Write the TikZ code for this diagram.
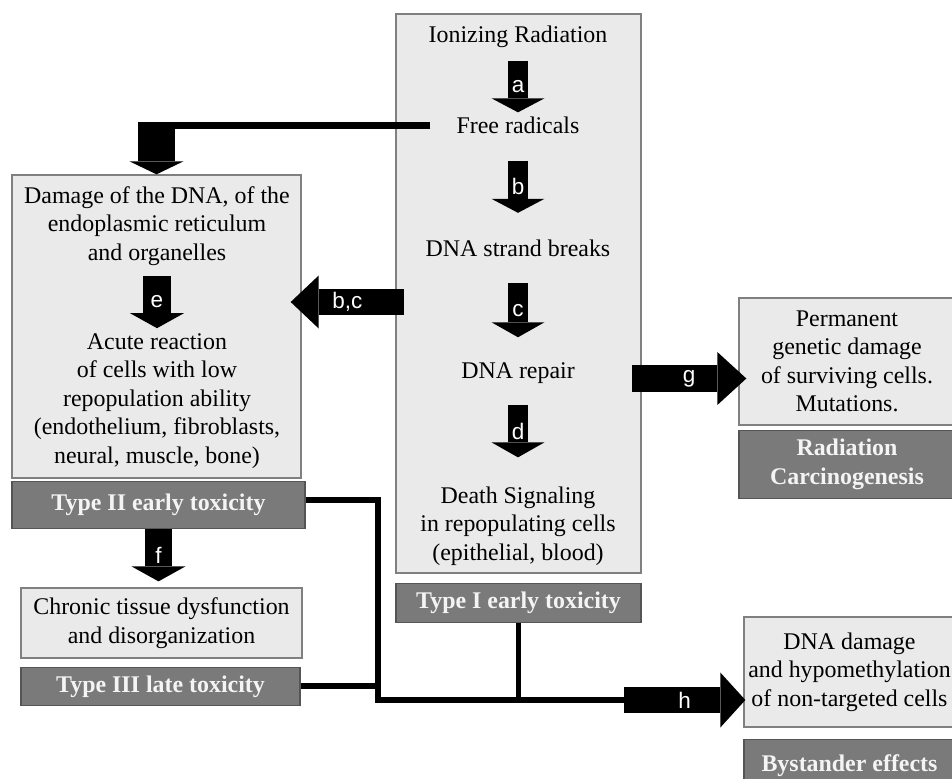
\documentclass[tikz,border=0pt]{standalone}
\usepackage{fontspec}
\setmainfont{Liberation Serif}
\setsansfont{Liberation Sans}
\usetikzlibrary{arrows.meta,positioning,calc}
\definecolor{BoxFill}{HTML}{EAEAEA}
\definecolor{BoxEdge}{HTML}{808080}
\definecolor{TagFill}{HTML}{7A7A7A}
\definecolor{TagEdge}{HTML}{555555}
\definecolor{TagText}{HTML}{F4F4F4}
\tikzset{
  LB/.style={rectangle,draw=BoxEdge,fill=BoxFill,line width=0.9pt,inner sep=0pt,
             align=center,font=\fontsize{17}{20.3}\selectfont},
  DB/.style={rectangle,draw=TagEdge,fill=TagFill,line width=0.9pt,inner sep=0pt,
             text=TagText,align=center,font=\fontsize{17}{20.3}\selectfont\bfseries},
  TX/.style={align=center,inner sep=0pt,font=\fontsize{17}{20.3}\selectfont},
  blk/.style n args={3}{line width=#1,
             -{Triangle[width=#2 0 0,length=#3 0 0,line width=0pt 0 0]}},
  bar/.style={line width=0.14cm},
  AL/.style={text=white,inner sep=0pt,font=\sffamily\fontsize{16}{18}\selectfont}
}
\begin{document}
\begin{tikzpicture}[x=0.025cm,y=-0.025cm]
  \useasboundingbox (0,0) rectangle (952,778);

  % boxes
  \node[LB,minimum width=6.125cm,minimum height=13.975cm] (rad) at (518.5,293.5) {};
  \node[DB,minimum width=6.125cm,minimum height=0.975cm,below=0.225cm of rad] (t1) {Type I early toxicity};
  \node[LB,minimum width=7.225cm,minimum height=7.575cm] (dmg) at (156.5,326.5) {};
  \node[DB,minimum width=7.325cm,minimum height=1.175cm,below right=0.05cm and 0cm of dmg.south west] (t2) {Type II early toxicity};
  \node[LB,minimum width=7.025cm,minimum height=1.75cm] (chr) at (161.5,623) {Chronic tissue dysfunction\\and disorganization};
  \node[DB,minimum width=6.975cm,minimum height=0.95cm,below right=0.2cm and 0cm of chr.south west] (t3) {Type III late toxicity};
  \node[LB,minimum width=5.4cm,minimum height=3.175cm] (perm) at (847,361.5) {Permanent\\genetic damage\\of surviving cells.\\Mutations.};
  \node[DB,minimum width=5.4cm,minimum height=1.7cm,below right=0.1cm and 0cm of perm.south west] (carc) {Radiation\\Carcinogenesis};
  \node[LB,minimum width=5.275cm,minimum height=2.75cm] (dna) at (849.5,672) {DNA damage\\and hypomethylation\\of non-targeted cells};
  \node[DB,minimum width=5.275cm,minimum height=1.3cm,below right=0.275cm and 0cm of dna.south west] (bys) {Bystander effects};

  % texts in the big boxes
  \node[TX] (ion) at (518,36.5) {Ionizing Radiation};
  \node[TX] (free) at (518,125) {Free radicals};
  \node[TX] (brk) at (518,248.5) {DNA strand breaks};
  \node[TX] (rep) at (518,373) {DNA repair};
  \node[TX] (death) at (518,526) {Death Signaling\\in repopulating cells\\(epithelial, blood)};
  \node[TX] (dmgtx) at (157,226) {Damage of the DNA, of the\\endoplasmic reticulum\\and organelles};
  \node[TX] (acute) at (157,401) {Acute reaction\\of cells with low\\repopulation ability\\(endothelium, fibroblasts,\\neural, muscle, bone)};

  % block arrows
  \draw[blk={0.5cm}{1.325cm}{0.35cm}] ($(ion.south)+(0,13)$) -- node[AL] (la) {a} ($(free.north)+(0,-4)$);
  \draw[blk={0.5cm}{1.325cm}{0.35cm}] ($(free.south)+(0,27)$) -- node[AL] (lb) {b} ($(brk.north)+(0,-27)$);
  \draw[blk={0.5cm}{1.325cm}{0.375cm}] ($(brk.south)+(0,26)$) -- node[AL] (lc) {c} ($(rep.north)+(0,-25)$);
  \draw[blk={0.5cm}{1.325cm}{0.375cm}] ($(rep.south)+(0,21)$) -- node[AL] (ld) {d} ($(death.north)+(0,-29)$);
  \draw[blk={0.675cm}{1.35cm}{0.375cm}] ($(dmgtx.south)+(0,10)$) -- node[AL] (le) {e} ($(acute.north)+(0,-5)$);
  \draw[blk={0.675cm}{1.35cm}{0.375cm}] (t2.south) -- node[AL] (lf) {f} ($(t2.south |- chr.north)+(0,-6)$);

  \draw[line width=0.175cm] ($(free.west)+(-26,0)$) -- (free.west -| dmg.north);
  \draw[blk={0.925cm}{1.35cm}{0.325cm}] ($(free.west -| dmg.north)+(0,-3.5)$) -- (dmg.north);

  \coordinate (bc) at (404,302);
  \draw[blk={0.65cm}{1.325cm}{0.7cm}] (bc) -- node[AL] (lbc) {b,c} ($(bc -| dmg.east)+(-11,0)$);
  \coordinate (gs) at (632,378.5);
  \draw[blk={0.675cm}{1.325cm}{0.725cm}] (gs) -- node[AL] (lg) {g} ($(gs -| perm.west)+(8,0)$);

  % bystander lines
  \coordinate (jn) at (378,700);
  \coordinate (hs) at (624,700);
  \draw[bar] ($(t2.east)+(0,-5)$) -| (jn) -- (hs);
  \draw[bar] (t3.east) -- (t3.east -| jn);
  \draw[bar] (t1.south) -- (t1.south |- jn);
  \draw[blk={0.65cm}{1.375cm}{0.625cm}] (hs) -- node[AL] (lh) {h} ($(hs -| dna.west)+(2,0)$);
\end{tikzpicture}
\end{document}
